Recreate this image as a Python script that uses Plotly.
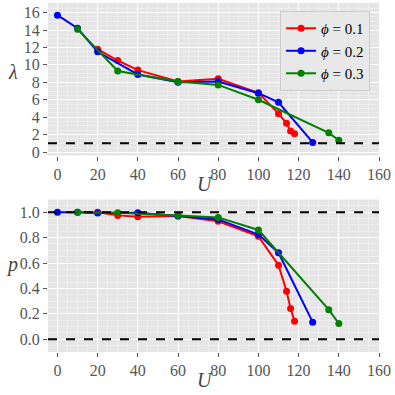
import plotly.graph_objects as go
from plotly.subplots import make_subplots

# phi = 0.1
u_01 = [20, 30, 40, 60, 80, 100, 110, 114, 116, 118]
lam_01 = [11.8, 10.5, 9.4, 8.1, 8.4, 6.8, 4.4, 3.3, 2.4, 2.1]
p_01 = [1.0, 0.975, 0.965, 0.97, 0.928, 0.81, 0.583, 0.378, 0.243, 0.142]

# phi = 0.2
u_02 = [0, 10, 20, 40, 60, 80, 100, 110, 127]
lam_02 = [15.7, 14.2, 11.5, 8.9, 8.0, 8.1, 6.75, 5.7, 1.1]
p_02 = [1.0, 1.0, 0.993, 0.995, 0.97, 0.943, 0.824, 0.681, 0.135]

# phi = 0.3
u_03 = [10, 30, 60, 80, 100, 135, 140]
lam_03 = [14.1, 9.3, 8.1, 7.7, 6.0, 2.2, 1.35]
p_03 = [1.0, 0.995, 0.975, 0.959, 0.86, 0.233, 0.124]

series = [
    ('<i>ϕ</i> = 0.1', u_01, lam_01, p_01, 'red'),
    ('<i>ϕ</i> = 0.2', u_02, lam_02, p_02, 'blue'),
    ('<i>ϕ</i> = 0.3', u_03, lam_03, p_03, 'green'),
]

serif = 'Liberation Serif'
tick_gray = '#555555'
title_gray = '#444444'

fig = make_subplots(rows=2, cols=1, vertical_spacing=0.126)

for name, u, lam, p, col in series:
    fig.add_trace(go.Scatter(x=u, y=lam, mode='lines+markers', name=name,
                             line=dict(color=col, width=2),
                             marker=dict(color=col, size=7)), row=1, col=1)
    fig.add_trace(go.Scatter(x=u, y=p, mode='lines+markers', name=name, showlegend=False,
                             line=dict(color=col, width=2),
                             marker=dict(color=col, size=7)), row=2, col=1)

# reference lines
fig.add_hline(y=1, line=dict(color='black', width=2, dash='dash'), row=1, col=1)
fig.add_hline(y=1, line=dict(color='black', width=2, dash='dash'), row=2, col=1)
fig.add_hline(y=0, line=dict(color='black', width=2, dash='dash'), row=2, col=1)

axis_common = dict(
    showgrid=True, gridcolor='white', gridwidth=1,
    minor=dict(showgrid=True, gridcolor='#EEEEEE', gridwidth=0.7, ticks=''),
    ticks='outside', ticklen=4, tickcolor=tick_gray,
    tickfont=dict(family=serif, size=16, color=tick_gray),
    zeroline=False, showline=False, automargin=False,
)

for r in (1, 2):
    fig.update_xaxes(range=[-4.7, 160], tick0=0, dtick=20, row=r, col=1, **axis_common)

fig.update_yaxes(range=[-0.4, 17.1], tick0=0, dtick=2, row=1, col=1, **axis_common)
fig.update_yaxes(range=[-0.1, 1.1], tick0=0, dtick=0.2, tickformat='.1f', row=2, col=1, **axis_common)

# axis titles placed by hand
title_font = dict(family=serif, size=20, color=title_gray)
for txt, x, y in [('<i>U</i>', 205, 184), ('<i>U</i>', 205, 380),
                  ('<i>λ</i>', 13, 72), ('<i>p</i>', 12, 264)]:
    fig.add_annotation(text=txt, xref='paper', yref='paper',
                       x=(x - 48) / 331, y=(352 - y) / 349,
                       xanchor='center', yanchor='middle',
                       showarrow=False, font=title_font)

fig.update_layout(
    width=395, height=395,
    margin=dict(l=48, r=16, t=3, b=43),
    paper_bgcolor='white',
    plot_bgcolor='#E5E5E5',
    font=dict(family=serif),
    legend=dict(x=0.973, y=0.977, xanchor='right', yanchor='top',
                bgcolor='#E8E8E8', bordercolor='#CCCCCC', borderwidth=1,
                font=dict(family=serif, size=15, color='black'),
                itemwidth=30, tracegroupgap=0),
    showlegend=True,
)

fig.write_html("out.html", config={'displayModeBar': False},
               post_script="document.body.style.margin='0';")
